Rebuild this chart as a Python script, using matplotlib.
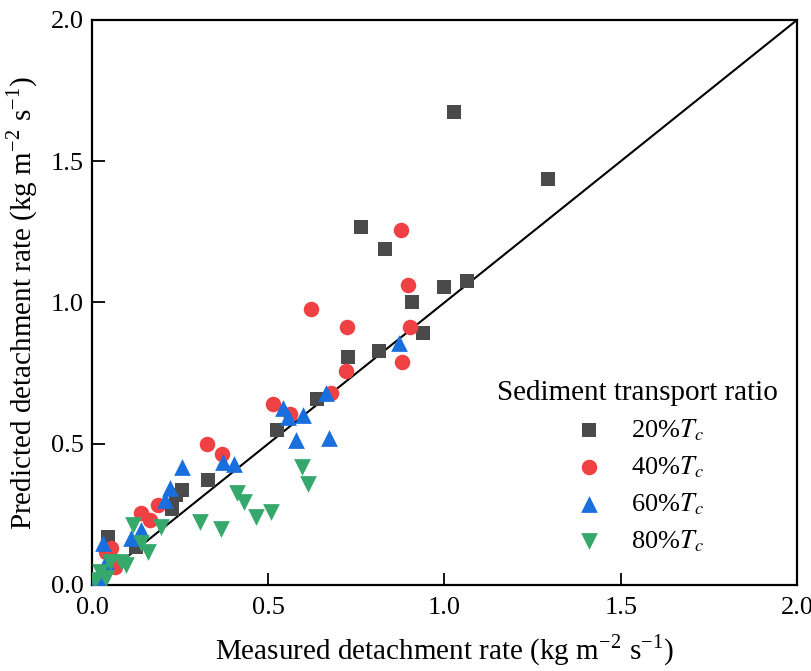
import matplotlib
matplotlib.use("Agg")
import matplotlib.pyplot as plt
import numpy as np

plt.rcParams['font.family'] = ['Liberation Serif', 'DejaVu Serif']
plt.rcParams['mathtext.fontset'] = 'stix'

# measured (x) vs predicted (y)
x20 = [1.027, 1.294, 0.763, 0.831, 0.999, 1.064, 0.908, 0.939, 0.726, 0.814,
       0.638, 0.525, 0.329, 0.256, 0.238, 0.226, 0.125, 0.045, 0.065]
y20 = [1.674, 1.437, 1.267, 1.189, 1.055, 1.076, 1.002, 0.892, 0.807, 0.828,
       0.658, 0.549, 0.372, 0.336, 0.319, 0.269, 0.135, 0.170, 0.078]

x40 = [0.877, 0.896, 0.621, 0.723, 0.902, 0.879, 0.720, 0.678, 0.513, 0.561,
       0.327, 0.369, 0.187, 0.139, 0.165, 0.054, 0.040, 0.065]
y40 = [1.257, 1.062, 0.977, 0.913, 0.913, 0.789, 0.758, 0.680, 0.641, 0.605,
       0.500, 0.464, 0.283, 0.255, 0.230, 0.131, 0.117, 0.064]

x60 = [0.871, 0.664, 0.542, 0.556, 0.599, 0.579, 0.672, 0.372, 0.403, 0.255,
       0.221, 0.207, 0.111, 0.139, 0.031, 0.040, 0.017]
y60 = [0.857, 0.680, 0.627, 0.595, 0.602, 0.513, 0.520, 0.435, 0.428, 0.418,
       0.343, 0.300, 0.166, 0.195, 0.149, 0.081, 0.025]

x80 = [0.596, 0.613, 0.411, 0.431, 0.508, 0.465, 0.306, 0.366, 0.196, 0.116,
       0.139, 0.159, 0.096, 0.082, 0.050, 0.022, 0.040, 0.009]
y80 = [0.418, 0.357, 0.326, 0.294, 0.258, 0.241, 0.223, 0.198, 0.205, 0.212,
       0.149, 0.117, 0.071, 0.081, 0.081, 0.046, 0.025, 0.018]

fig = plt.figure(figsize=(8.12, 6.71), dpi=100)
ax = fig.add_axes([0.1133, 0.1282, 0.8682, 0.8420])

ax.plot([0, 2], [0, 2], color='black', linewidth=1.5, zorder=1)   # 1:1 line
ax.scatter(x20, y20, marker='s', s=100, color='#4a4a4a', linewidths=0, label='20%$T_c$', zorder=2)
ax.scatter(x40, y40, marker='o', s=125, color='#ef4144', linewidths=0, label='40%$T_c$', zorder=3)
ax.scatter(x60, y60, marker='^', s=145, color='#1a6fde', linewidths=0, label='60%$T_c$', zorder=4)
ax.scatter(x80, y80, marker='v', s=145, color='#34a96b', linewidths=0, label='80%$T_c$', zorder=5)

ax.set_xlim(0, 2.0)
ax.set_ylim(0, 2.0)
ticks = [0.0, 0.5, 1.0, 1.5, 2.0]
ax.set_xticks(ticks)
ax.set_yticks(ticks)
ax.set_xticklabels(['0.0', '0.5', '1.0', '1.5', '2.0'])
ax.set_yticklabels(['0.0', '0.5', '1.0', '1.5', '2.0'])
ax.tick_params(direction='in', length=9, width=1.3, labelsize=19)
ax.tick_params(axis='x', pad=9)
ax.tick_params(axis='y', pad=6)
for sp in ax.spines.values():
    sp.set_linewidth(1.6)

ax.set_xlabel('Measured detachment rate (kg m$^{\\mathregular{-2}}$ s$^{\\mathregular{-1}}$)', fontsize=21, labelpad=10)
ax.set_ylabel('Predicted detachment rate (kg m$^{\\mathregular{-2}}$ s$^{\\mathregular{-1}}$)', fontsize=21, labelpad=8)

leg = ax.legend(title='Sediment transport ratio', loc='upper center',
                bbox_to_anchor=(0.773, 0.405), frameon=False, fontsize=19,
                title_fontsize=21, handlelength=1.4, handletextpad=0.9,
                labelspacing=0.43)

fig.savefig('out.png', dpi=100)
